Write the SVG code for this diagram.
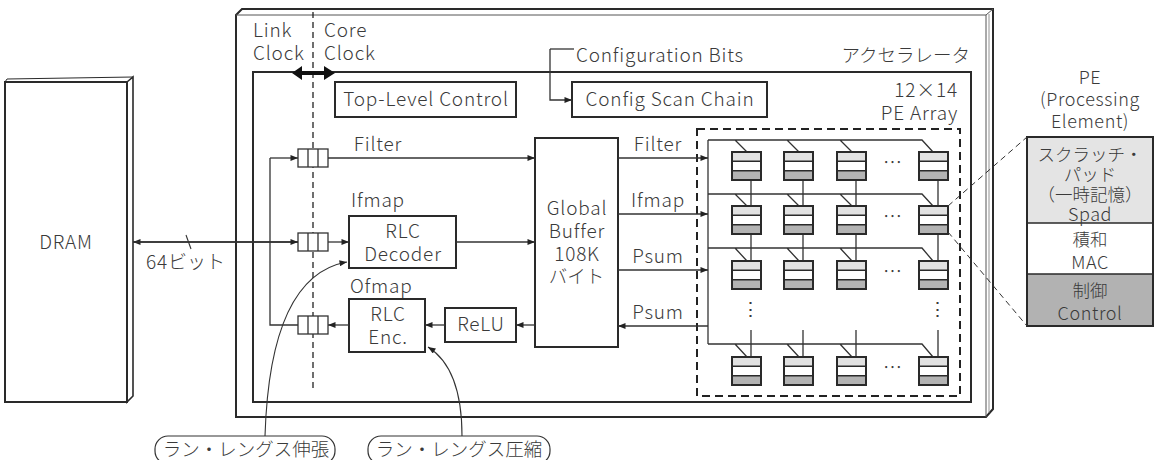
<svg xmlns="http://www.w3.org/2000/svg" width="1158" height="460" viewBox="0 0 1158 460">
<style>
text{font-family:"Noto Sans CJK JP","Liberation Sans",sans-serif;fill:#3a3a3a;font-size:19px;font-weight:300;letter-spacing:0.8px}
.m{text-anchor:middle}
.e{text-anchor:end}
.j{font-size:18.5px;letter-spacing:0}
.p{font-size:18px;letter-spacing:0.6px}
.pj{font-size:17.5px;letter-spacing:0}
.box{fill:#fff;stroke:#2a2a2a;stroke-width:2}
.ln{fill:none;stroke:#333;stroke-width:1.3}
.dash{fill:none;stroke:#222;stroke-width:1.3;stroke-dasharray:6 4}
</style>
<defs>
<marker id="ah" viewBox="0 0 10 8" refX="10" refY="4" markerWidth="8" markerHeight="6" markerUnits="userSpaceOnUse" orient="auto">
<path d="M0,0 L10,4 L0,8 Z" fill="#222"/>
</marker>
<g id="pe">
<rect x="0" y="0" width="29" height="9.3" fill="#e2e2e2"/>
<rect x="0" y="9.3" width="29" height="9.4" fill="#fff"/>
<rect x="0" y="18.7" width="29" height="9.3" fill="#b3b3b3"/>
<path d="M0,9.3H29M0,18.7H29" stroke="#2a2a2a" stroke-width="1.4"/>
<rect x="0" y="0" width="29" height="28" fill="none" stroke="#2a2a2a" stroke-width="2"/>
</g>
<g id="fifo">
<rect x="0" y="0" width="30" height="18" fill="#fff" stroke="#333" stroke-width="1.3"/>
<path d="M10,0V18M20,0V18" stroke="#333" stroke-width="1.3"/>
</g>
</defs>

<!-- DRAM -->
<g id="dram">
<path d="M127,82 L133,77 L133,396 L127,402 Z" fill="#fff" stroke="#2a2a2a" stroke-width="1.6"/>
<path d="M5,82 L7,79 L133,77" fill="none" stroke="#2a2a2a" stroke-width="1"/>
<rect x="5" y="82" width="122" height="320" class="box"/>
<text x="66" y="249" class="m" font-size="20">DRAM</text>
</g>

<!-- Accelerator outer -->
<g id="accelerator">
<path d="M236,15 L242,9 L993,9 L993,409 L986,417 L236,417 Z" fill="#fff" stroke="#2a2a2a" stroke-width="2"/>
<path d="M236,15 H986 V417 M986,15 L993,9" fill="none" stroke="#555" stroke-width="1"/>
<path d="M989,14 V413" fill="none" stroke="#777" stroke-width="0.8"/>
<text x="970" y="62" class="e j">アクセラレータ</text>
</g>

<!-- Core box -->
<g id="core">
<rect x="253" y="72" width="718" height="330" fill="#fff" stroke="#2a2a2a" stroke-width="2"/>
</g>

<!-- Clock boundary -->
<g id="clock">
<path d="M313,12 V390" class="dash" stroke-width="1.2"/>
<text x="253" y="37">Link</text>
<text x="253" y="60">Clock</text>
<text x="324" y="37">Core</text>
<text x="324" y="60">Clock</text>
<path d="M292,73 L302,66 L302,71 L324,71 L324,66 L335,73 L324,80 L324,75 L302,75 L302,80 Z" fill="#111"/>
</g>

<g id="top-level-control">
<rect x="335" y="82" width="181" height="35" class="box"/>
<text x="426" y="106" class="m" letter-spacing="0.3">Top-Level Control</text>
</g>

<g id="config-scan-chain">
<rect x="572" y="82" width="195" height="35" class="box"/>
<text x="670" y="106" class="m">Config Scan Chain</text>
</g>
<g id="config-bits">
<text x="576" y="62">Configuration Bits</text>
</g>

<g id="pe-array-label">
<text x="958" y="97" class="e">12×14</text>
<text x="958" y="120" class="e">PE Array</text>
</g>

<!-- FIFOs -->
<g id="fifo-filter"><use href="#fifo" x="298" y="149"/></g>
<g id="fifo-ifmap"><use href="#fifo" x="298" y="233"/></g>
<g id="fifo-ofmap"><use href="#fifo" x="298" y="316"/></g>

<g id="rlc-decoder">
<rect x="349" y="216" width="107" height="52" class="box"/>
<text x="403" y="238" class="m">RLC</text>
<text x="403" y="261" class="m">Decoder</text>
</g>
<g id="rlc-enc">
<rect x="349" y="299" width="76" height="53" class="box"/>
<text x="388" y="321" class="m">RLC</text>
<text x="388" y="344" class="m">Enc.</text>
</g>
<g id="relu">
<rect x="445" y="308" width="71" height="34" class="box"/>
<text x="481" y="331" class="m">ReLU</text>
</g>

<g id="global-buffer">
<rect x="535" y="138" width="83" height="209" class="box"/>
<text x="577" y="215" class="m">Global</text>
<text x="577" y="238" class="m">Buffer</text>
<text x="577" y="261" class="m">108K</text>
<text x="576.5" y="283" class="m j">バイト</text>
</g>

<!-- PE array -->
<g id="pe-array">
<rect x="697" y="129" width="263" height="267" fill="none" stroke="#222" stroke-width="2" stroke-dasharray="8 5"/>
<g class="ln" stroke-width="1.2">
<path d="M708,140 V344"/>
<path d="M708,140 H922 L933,152 M735,140 L747,152 M787,140 L799,152 M840,140 L852,152"/>
<path d="M708,194 H922 L933,206 M735,194 L747,206 M787,194 L799,206 M840,194 L852,206"/>
<path d="M708,248 H922 L933,261 M735,248 L747,261 M787,248 L799,261 M840,248 L852,261"/>
<path d="M708,344 H922 L933,357 M735,344 L747,357 M787,344 L799,357 M840,344 L852,357"/>
<path d="M751,180V206M803,180V206M856,180V206M938,180V206"/>
<path d="M751,234V261M803,234V261M856,234V261M938,234V261"/>
<path d="M751,330V357M803,330V357M856,330V357M938,330V357"/>
</g>
<use href="#pe" x="732" y="152"/><use href="#pe" x="784" y="152"/><use href="#pe" x="837" y="152"/><use href="#pe" x="919" y="152"/>
<use href="#pe" x="732" y="206"/><use href="#pe" x="784" y="206"/><use href="#pe" x="837" y="206"/><use href="#pe" x="919" y="206"/>
<use href="#pe" x="732" y="261"/><use href="#pe" x="784" y="261"/><use href="#pe" x="837" y="261"/><use href="#pe" x="919" y="261"/>
<use href="#pe" x="732" y="357"/><use href="#pe" x="784" y="357"/><use href="#pe" x="837" y="357"/><use href="#pe" x="919" y="357"/>
<text x="893" y="170" class="m" font-size="14" letter-spacing="0">…</text>
<text x="893" y="224" class="m" font-size="14" letter-spacing="0">…</text>
<text x="893" y="279" class="m" font-size="14" letter-spacing="0">…</text>
<text x="893" y="375" class="m" font-size="14" letter-spacing="0">…</text>
<text x="751" y="316" class="m" font-size="15" letter-spacing="0">⋮</text>
<text x="938" y="316" class="m" font-size="15" letter-spacing="0">⋮</text>
</g>

<!-- PE detail -->
<g id="pe-detail">
<text x="1090" y="84" class="m p">PE</text>
<text x="1090" y="106" class="m p">(Processing</text>
<text x="1090" y="128" class="m p">Element)</text>
<rect x="1027" y="137" width="126" height="86" fill="#e4e4e4"/>
<rect x="1027" y="223" width="126" height="51" fill="#fff"/>
<rect x="1027" y="274" width="126" height="52" fill="#b2b2b2"/>
<path d="M1027,223H1153M1027,274H1153" stroke="#2a2a2a" stroke-width="1.6"/>
<rect x="1027" y="137" width="126" height="189" fill="none" stroke="#2a2a2a" stroke-width="2"/>
<text x="1090" y="161" class="m pj">スクラッチ・</text>
<text x="1090" y="181" class="m pj">パッド</text>
<text x="1090" y="201" class="m pj">（一時記憶）</text>
<text x="1090" y="221" class="m p">Spad</text>
<text x="1090" y="246" class="m pj">積和</text>
<text x="1090" y="269" class="m p">MAC</text>
<text x="1090" y="297" class="m pj">制御</text>
<text x="1090" y="320" class="m p">Control</text>
</g>

<!-- Callout labels -->
<g id="label-decompress">
<rect x="155" y="436" width="180" height="28" rx="13" fill="#fff" stroke="#333" stroke-width="1.2"/>
<text x="246" y="456" class="m j">ラン・レングス伸張</text>
</g>
<g id="label-compress">
<rect x="368" y="436" width="182" height="28" rx="13" fill="#fff" stroke="#333" stroke-width="1.2"/>
<text x="459" y="456" class="m j">ラン・レングス圧縮</text>
</g>

<!-- Connectors -->
<g id="connectors" class="ln">
<path d="M550,49 H574"/>
<path d="M550,49 V100 H572" marker-end="url(#ah)"/>
<path d="M298,242 H133" marker-end="url(#ah)"/>
<path d="M133,242 H298" marker-end="url(#ah)"/>
<path d="M186,235 L191,249" stroke-width="1.1"/>
<path d="M270,158 V325 H298"/>
<path d="M270,158 H298" marker-end="url(#ah)"/>
<path d="M328,158 H535" marker-end="url(#ah)"/>
<path d="M328,242 H349" marker-end="url(#ah)"/>
<path d="M456,242 H535" marker-end="url(#ah)"/>
<path d="M535,325 H516" marker-end="url(#ah)"/>
<path d="M445,325 H425" marker-end="url(#ah)"/>
<path d="M349,325 H328" marker-end="url(#ah)"/>
<path d="M618,158 H708" marker-end="url(#ah)"/>
<path d="M618,214 H708" marker-end="url(#ah)"/>
<path d="M618,270 H708" marker-end="url(#ah)"/>
<path d="M708,326 H618" marker-end="url(#ah)"/>
<path d="M948,206 L1027,137 M948,232 L1027,326" fill="none" stroke="#333" stroke-width="1" stroke-dasharray="6 4"/>
<path d="M265,436 C268,340 290,272 347,262" stroke-width="1.1" marker-end="url(#ah)"/>
<path d="M462,436 C462,392 452,362 428,347" stroke-width="1.1" marker-end="url(#ah)"/>
</g>

<g id="connector-labels">
<text x="146" y="269">64<tspan letter-spacing="0">ビット</tspan></text>
<text x="378" y="151" class="m">Filter</text>
<text x="351" y="207">Ifmap</text>
<text x="350" y="293">Ofmap</text>
<text x="658" y="151" class="m">Filter</text>
<text x="658" y="207" class="m">Ifmap</text>
<text x="658" y="263" class="m">Psum</text>
<text x="658" y="319" class="m">Psum</text>
</g>
</svg>
